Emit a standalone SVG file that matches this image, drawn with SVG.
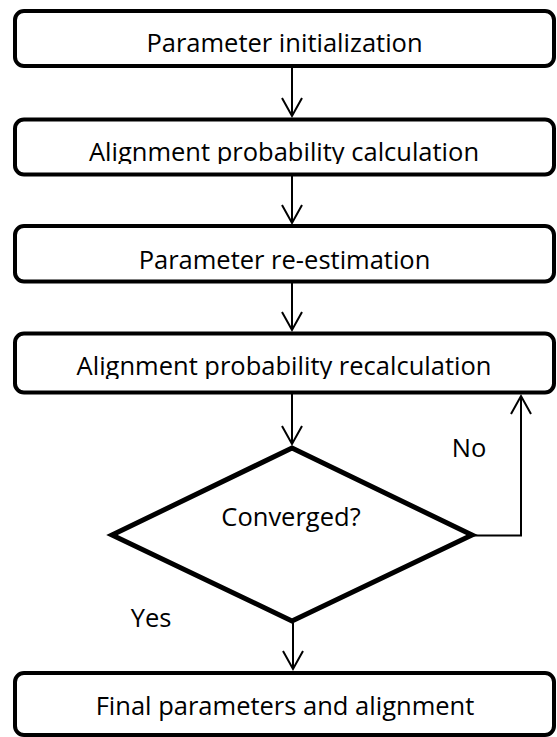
<svg xmlns="http://www.w3.org/2000/svg" width="557" height="737" viewBox="0 0 557 737">
<style>
.box{fill:#fff;stroke:#000;stroke-width:4}
.dia{fill:#fff;stroke:#000;stroke-width:5;stroke-linejoin:miter}
.t{font-family:"Open Sans","Liberation Sans",sans-serif;font-size:25.5px;fill:#000;text-anchor:middle}
.c{fill:none;stroke:#000;stroke-width:2}
</style>
<defs>
<marker id="ah" markerWidth="16" markerHeight="24" refX="18" refY="11" orient="auto" markerUnits="userSpaceOnUse" overflow="visible">
<path d="M0,1 L18,11 L0,21" fill="none" stroke="#000" stroke-width="2"/>
</marker>
<clipPath id="clip2"><rect x="15" y="119" width="539" height="45"/></clipPath>
<clipPath id="clip4"><rect x="15" y="333" width="539" height="46"/></clipPath>
</defs>
<g id="connectors">
<line class="c" x1="292" y1="67" x2="292" y2="116" marker-end="url(#ah)"/>
<line class="c" x1="292" y1="176" x2="292" y2="223" marker-end="url(#ah)"/>
<line class="c" x1="292" y1="283" x2="292" y2="330" marker-end="url(#ah)"/>
<line class="c" x1="292" y1="394" x2="292" y2="444" marker-end="url(#ah)"/>
<line class="c" x1="293" y1="623" x2="293" y2="669" marker-end="url(#ah)"/>
<polyline class="c" points="473,535.5 521,535.5 521,396" marker-end="url(#ah)"/>
<text class="t" x="469" y="457">No</text>
<text class="t" x="151" y="627">Yes</text>
</g>
<g id="n1"><rect class="box" x="15" y="11" width="539" height="55" rx="9"/><text class="t" x="284.5" y="52">Parameter initialization</text></g>
<g id="n2"><rect class="box" x="15" y="119.5" width="539" height="55" rx="9"/><text class="t" x="284" y="161" clip-path="url(#clip2)">Alignment probability calculation</text></g>
<g id="n3"><rect class="box" x="15" y="226" width="539" height="55.5" rx="9"/><text class="t" x="284.5" y="269">Parameter re-estimation</text></g>
<g id="n4"><rect class="box" x="15" y="333.5" width="539" height="59" rx="9"/><text class="t" x="284" y="375" clip-path="url(#clip4)">Alignment probability recalculation</text></g>
<g id="n5"><polygon class="dia" points="292,448 472,535 292,621 112,535"/><text class="t" x="291" y="526">Converged?</text></g>
<g id="n6"><rect class="box" x="15" y="673" width="539" height="62" rx="9"/><text class="t" x="285" y="715">Final parameters and alignment</text></g>
</svg>
